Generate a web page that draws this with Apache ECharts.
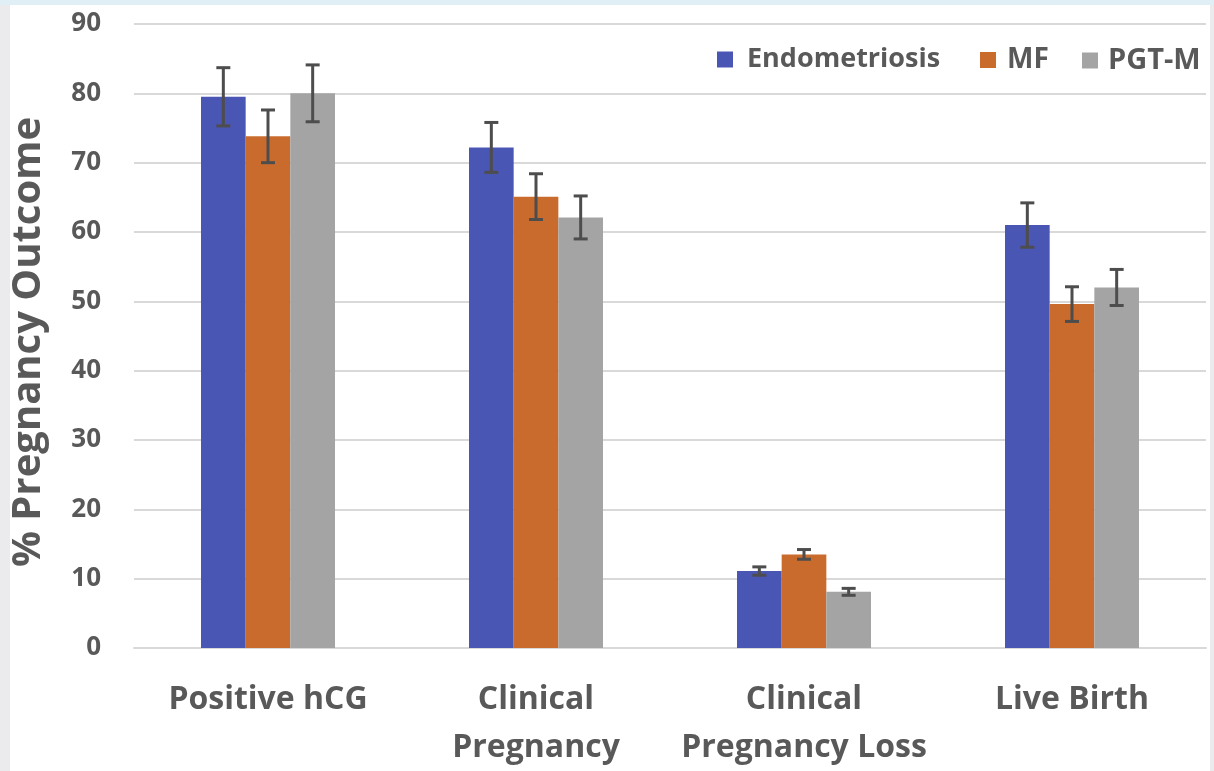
<!DOCTYPE html>
<html>
<head>
<meta charset="utf-8">
<script src="https://cdn.jsdelivr.net/npm/echarts@6/dist/echarts.min.js"></script>
<style>
  html, body { margin: 0; padding: 0; width: 1214px; height: 771px; overflow: hidden; background: #ebebee; }
  #topband { position: absolute; left: 0; top: 0; width: 1214px; height: 5px; background: #e0eff6; }
  #chart { position: absolute; left: 10px; top: 5px; width: 1200px; height: 766px; background: #ffffff; }
</style>
</head>
<body>
<div id="topband"></div>
<div id="chart"></div>
<script>
// Pregnancy outcome categories
const categories = ['Positive hCG', 'Clinical\nPregnancy', 'Clinical\nPregnancy Loss', 'Live Birth'];
const seriesNames = ['Endometriosis', 'MF', 'PGT-M'];

// Percentages per group
const endometriosis = [79.5, 72.2, 11.1, 61.0];
const mf            = [73.8, 65.1, 13.5, 49.6];
const pgtm          = [80.0, 62.1, 8.1, 52.0];

// Error bar half-widths (±) per group
const endometriosisErr = [4.2, 3.6, 0.6, 3.2];
const mfErr            = [3.8, 3.3, 0.7, 2.5];
const pgtmErr          = [4.1, 3.1, 0.5, 2.6];

const yTicks = [0, 10, 20, 30, 40, 50, 60, 70, 80, 90];

const colors = ['#4a56b4', '#c96b2c', '#a4a4a4'];
const textColor = '#595959';
const fontFamily = '"Open Sans", "Noto Sans", sans-serif';

const values = [endometriosis, mf, pgtm];
const errors = [endometriosisErr, mfErr, pgtmErr];

const chart = echarts.init(document.getElementById('chart'), null, { renderer: 'canvas' });

const barSeries = seriesNames.map((name, i) => ({
  name: name,
  type: 'bar',
  data: values[i],
  itemStyle: { color: colors[i] },
  barGap: '0%',
  barCategoryGap: '50%',
  emphasis: { disabled: true }
}));

// Whisker series: one per group, placed over its bar within the cluster
const errorSeries = seriesNames.map((name, i) => ({
  type: 'custom',
  name: name + ' error',
  silent: true,
  z: 10,
  encode: { x: 0, y: [1, 2] },
  data: values[i].map((v, k) => [k, v - errors[i][k], v + errors[i][k]]),
  renderItem: function (params, api) {
    const catIdx = api.value(0);
    const low = api.coord([catIdx, api.value(1)]);
    const high = api.coord([catIdx, api.value(2)]);
    const bandWidth = api.size([1, 0])[0];
    const barW = bandWidth * 0.5 / 3;
    const x = low[0] + (i - 1) * barW;
    const cap = 7;
    const style = { stroke: '#4d4d4d', lineWidth: 3, fill: null };
    return {
      type: 'group',
      children: [
        { type: 'line', shape: { x1: x, y1: high[1], x2: x, y2: low[1] }, style: style },
        { type: 'line', shape: { x1: x - cap, y1: high[1], x2: x + cap, y2: high[1] }, style: style },
        { type: 'line', shape: { x1: x - cap, y1: low[1], x2: x + cap, y2: low[1] }, style: style }
      ]
    };
  }
}));

// One legend entry per block so each key sits at its own spot
const legendLeft = [707, 970, 1072];
const legendTextGap = [9, 6, 5];
const legendFontSize = [27, 28, 29];
const legends = seriesNames.map((name, i) => ({
  data: [name],
  left: legendLeft[i],
  top: 41,
  padding: 0,
  itemWidth: 16,
  itemHeight: 16,
  icon: 'rect',
  selectedMode: false,
  textStyle: {
    color: textColor, fontSize: legendFontSize[i], fontWeight: 'bold', fontFamily: fontFamily,
    padding: [0, 0, 0, legendTextGap[i]]
  }
}));

chart.setOption({
  animation: false,
  textStyle: { fontFamily: fontFamily },
  legend: legends,
  grid: { left: 124, right: 4, top: 19, bottom: 123, containLabel: false, outerBoundsMode: 'none' },
  xAxis: {
    type: 'category',
    data: categories,
    axisLine: { show: true, lineStyle: { color: '#d9d9d9', width: 2 } },
    axisTick: { show: false },
    axisLabel: {
      color: textColor,
      fontSize: 32,
      fontWeight: 'bold',
      lineHeight: 48,
      margin: 28,
      interval: 0,
      fontFamily: fontFamily
    }
  },
  yAxis: {
    type: 'value',
    min: yTicks[0],
    max: yTicks[yTicks.length - 1],
    interval: 10,
    name: '% Pregnancy Outcome',
    nameLocation: 'middle',
    nameGap: 85,
    nameRotate: 90,
    nameTextStyle: {
      color: textColor, fontSize: 40, fontWeight: 'bold', fontFamily: fontFamily,
      padding: [0, 12, 0, 0]
    },
    axisLine: { show: false },
    axisTick: { show: false },
    axisLabel: {
      color: textColor,
      fontSize: 26,
      fontWeight: 'bold',
      margin: 33,
      fontFamily: fontFamily
    },
    splitLine: { lineStyle: { color: '#d9d9d9', width: 2 } }
  },
  series: barSeries.concat(errorSeries)
});
</script>
</body>
</html>
